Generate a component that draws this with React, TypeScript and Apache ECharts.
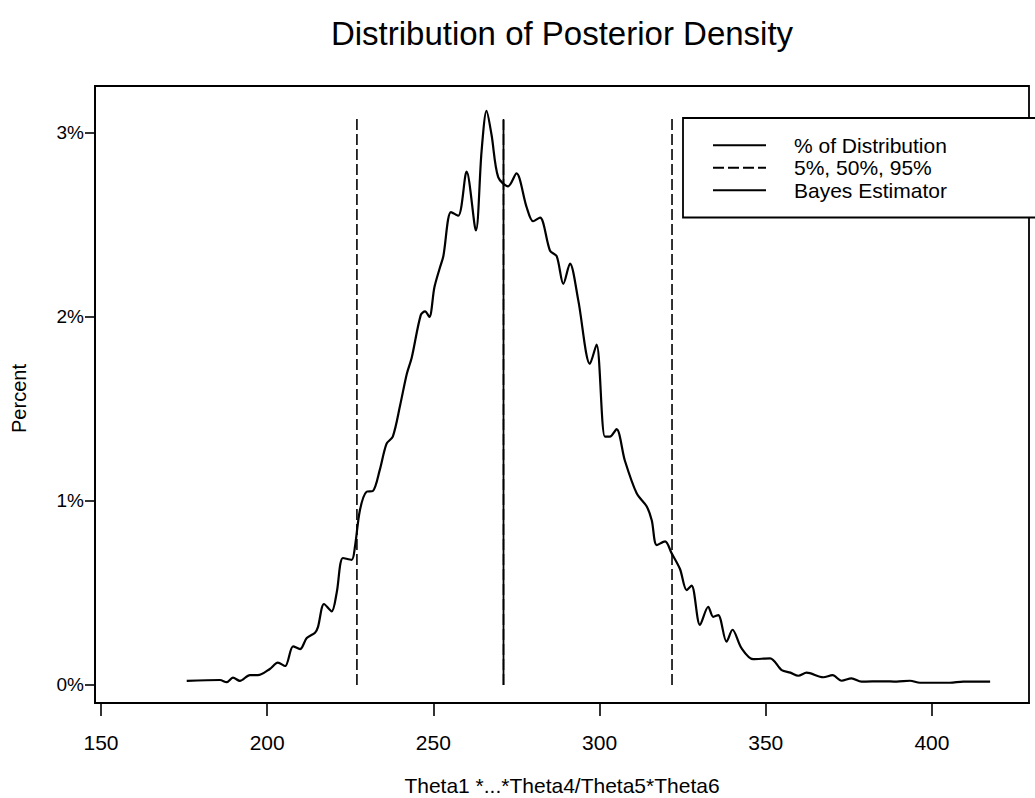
import React, { useEffect, useRef } from "react";
import * as echarts from "echarts";

// Posterior density curve (theta value, percent)
const thetaValues = [
  175.8, 185.8, 187.8, 189.7, 191.8, 194.8, 197.2, 200.8, 203.2, 205.4,
  207.8, 209.9, 211.9, 214.4, 215.3, 217.1, 219.4, 220.9, 222.8, 225.4,
  226.4, 227.9, 229.9, 231.8, 233.9, 235.9, 237.8, 240.0, 242.0, 243.5,
  246.2, 247.5, 248.8, 250.3, 252.0, 253.0, 255.3, 257.5, 260.0, 262.8,
  264.5, 266.0, 267.5, 269.5, 272.5, 275.0, 278.0, 280.0, 282.1, 285.1,
  287.1, 289.1, 291.1, 293.6, 297.1, 299.1, 301.6, 303.1, 305.1, 307.6,
  311.2, 314.2, 315.7, 317.2, 319.7, 321.7, 324.2, 326.2, 327.7, 330.2,
  332.7, 334.2, 335.7, 338.2, 340.0, 342.7, 346.2, 351.3, 354.8, 357.4,
  359.8, 362.3, 367.3, 370.1, 372.8, 375.8, 378.8, 385.4, 389.4, 393.4,
  396.4, 405.4, 409.4, 417.5,
];
const percentValues = [
  0.022, 0.027, 0.015, 0.04, 0.022, 0.054, 0.053, 0.087, 0.121, 0.103,
  0.21, 0.195, 0.255, 0.284, 0.316, 0.44, 0.4, 0.5, 0.69, 0.68,
  0.75, 0.95, 1.05, 1.054, 1.17, 1.31, 1.35, 1.52, 1.69, 1.78,
  2.01, 2.03, 2.0, 2.16, 2.27, 2.33, 2.57, 2.55, 2.79, 2.47,
  2.9, 3.12, 2.99, 2.76, 2.71, 2.78, 2.6, 2.52, 2.54, 2.36,
  2.33, 2.18, 2.29, 2.09, 1.745, 1.85, 1.35, 1.35, 1.39, 1.22,
  1.04, 0.97, 0.895, 0.76, 0.78, 0.715, 0.63, 0.515, 0.54, 0.326,
  0.425, 0.37, 0.38, 0.235, 0.3, 0.2, 0.14, 0.145, 0.081, 0.067,
  0.05, 0.067, 0.042, 0.053, 0.023, 0.036, 0.018, 0.02, 0.018, 0.023,
  0.012, 0.012, 0.018, 0.018,
];

// Quantiles (5%, 50%, 95%) and Bayes estimator
const quantiles = [227.0, 271.1, 321.8];
const quantileTop = 3.08;
const bayesEstimator = 271.1;
const bayesTop = 3.07;

const xTicks = [150, 200, 250, 300, 350, 400];
const yTicks = [0, 1, 2, 3];

const seriesNames = ["% of Distribution", "5%, 50%, 95%", "Bayes Estimator"];
const titleText = "Distribution of Posterior Density";
const xAxisTitle = "Theta1 *...*Theta4/Theta5*Theta6";
const yAxisTitle = "Percent";

const FONT = "'Liberation Sans', Arial, sans-serif";

export default function App() {
  const ref = useRef<HTMLDivElement>(null);

  useEffect(() => {
    if (!ref.current) return;
    const chart = echarts.init(ref.current, null, { renderer: "svg" });

    const curve = thetaValues.map((x, i) => [x, percentValues[i]]);
    const quantileSeries = quantiles.map((q) => ({
      name: seriesNames[1],
      type: "line",
      data: [
        [q, 0],
        [q, quantileTop],
      ],
      symbol: "none",
      lineStyle: { color: "#000", width: 1.6, type: [11, 4] },
      itemStyle: { color: "#000" },
      z: 3,
    }));

    const gridLeft = 95;
    const gridTop = 86;
    const gridRight = 6;
    const gridBottom = 95;
    const plotCenterX = gridLeft + (1035 - gridLeft - gridRight) / 2;
    const plotCenterY = gridTop + (798 - gridTop - gridBottom) / 2;

    chart.setOption({
      animation: false,
      backgroundColor: "#fff",
      textStyle: { fontFamily: FONT, color: "#000" },
      grid: {
        left: gridLeft,
        top: gridTop,
        right: gridRight,
        bottom: gridBottom,
        show: true,
        borderColor: "#000",
        borderWidth: 1.8,
      },
      xAxis: {
        type: "value",
        min: 148.2,
        max: 429.2,
        splitLine: { show: false },
        axisLine: { show: true, onZero: false, lineStyle: { color: "#000", width: 1.8 } },
        axisTick: {
          show: true,
          length: 13,
          customValues: xTicks,
          lineStyle: { color: "#000", width: 1.6 },
        },
        axisLabel: {
          customValues: xTicks,
          margin: 29,
          fontSize: 21,
          color: "#000",
          fontFamily: FONT,
        },
      },
      yAxis: {
        type: "value",
        min: -0.098,
        max: 3.255,
        splitLine: { show: false },
        axisLine: { show: true, onZero: false, lineStyle: { color: "#000", width: 1.8 } },
        axisTick: {
          show: true,
          length: 10,
          customValues: yTicks,
          lineStyle: { color: "#000", width: 1.6 },
        },
        axisLabel: {
          customValues: yTicks,
          margin: 11,
          fontSize: 19,
          color: "#000",
          fontFamily: FONT,
          formatter: (v: number) => `${v}%`,
        },
      },
      legend: {
        data: seriesNames,
        orient: "vertical",
        left: 683,
        top: 118,
        padding: [16, 120, 16, 29],
        itemGap: 0,
        itemWidth: 53,
        itemHeight: 14,
        backgroundColor: "#fff",
        borderColor: "#000",
        borderWidth: 1.8,
        borderRadius: 0,
        selectedMode: false,
        itemStyle: { opacity: 0 },
        textStyle: {
          fontSize: 21,
          lineHeight: 22.5,
          color: "#000",
          fontFamily: FONT,
          padding: [0, 0, 0, 23],
        },
      },
      series: [
        {
          name: seriesNames[0],
          type: "line",
          data: curve,
          symbol: "none",
          smooth: 0.3,
          lineStyle: { color: "#000", width: 2.2 },
          itemStyle: { color: "#000" },
          z: 4,
        },
        ...quantileSeries,
        {
          name: seriesNames[2],
          type: "line",
          data: [
            [bayesEstimator, 0],
            [bayesEstimator, bayesTop],
          ],
          symbol: "none",
          lineStyle: { color: "#000", width: 1.8 },
          itemStyle: { color: "#000" },
          z: 3,
        },
      ],
      graphic: [
        {
          type: "text",
          x: plotCenterX,
          y: 33,
          style: {
            text: titleText,
            fontSize: 33,
            fontFamily: FONT,
            fill: "#000",
            align: "center",
            verticalAlign: "middle",
          },
        },
        {
          type: "text",
          x: plotCenterX,
          y: 785,
          style: {
            text: xAxisTitle,
            fontSize: 21,
            fontFamily: FONT,
            fill: "#000",
            align: "center",
            verticalAlign: "middle",
          },
        },
        {
          type: "text",
          x: 19,
          y: plotCenterY + 4,
          rotation: Math.PI / 2,
          style: {
            text: yAxisTitle,
            fontSize: 20,
            fontFamily: FONT,
            fill: "#000",
            align: "center",
            verticalAlign: "middle",
          },
        },
      ],
    });

    return () => chart.dispose();
  }, []);

  return (
    <div
      ref={ref}
      style={{ position: "fixed", left: 0, top: 0, width: 1035, height: 798 }}
    />
  );
}
